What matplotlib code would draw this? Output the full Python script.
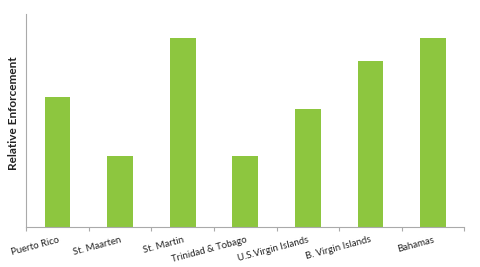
import matplotlib
matplotlib.use("Agg")
import matplotlib.pyplot as plt
import numpy as np

# Data
islands = ["Puerto Rico", "St. Maarten", "St. Martin", "Trinidad & Tobago",
           "U.S.Virgin Islands", "B. Virgin Islands", "Bahamas"]
enforcement = [5.5, 3, 8, 3, 5, 7, 8]

plt.rcParams["font.family"] = ["Lato", "DejaVu Sans"]

fig = plt.figure(figsize=(4.8, 2.67), dpi=100)
ax = fig.add_axes([0.055, 0.150, 0.912, 0.798])

x = np.arange(len(islands))
ax.bar(x, enforcement, width=0.41, color="#8DC63F")

ax.set_xlim(-0.5, len(islands) - 0.5)
ax.set_ylim(0, 9)
ax.set_yticks([])

# tick marks at category boundaries, labels at centers
ax.set_xticks(np.arange(len(islands) + 1) - 0.5)
ax.set_xticklabels([])
ax.set_xticks(x, minor=True)
ax.set_xticklabels(islands, minor=True, rotation=15, ha="right",
                   rotation_mode="anchor", fontsize=6.9, color="#222222")
ax.tick_params(axis="x", which="major", length=3, color="#aaaaaa", width=0.8)
ax.tick_params(axis="x", which="minor", length=0, pad=6)

for side in ["top", "right"]:
    ax.spines[side].set_visible(False)
for side in ["left", "bottom"]:
    ax.spines[side].set_color("#aaaaaa")
    ax.spines[side].set_linewidth(0.8)

ax.set_ylabel("Relative Enforcement", fontsize=8.5, fontweight="bold",
              color="#222222", labelpad=2)
ax.yaxis.set_label_coords(-0.018, 0.535)

fig.savefig("out.png", dpi=100)
